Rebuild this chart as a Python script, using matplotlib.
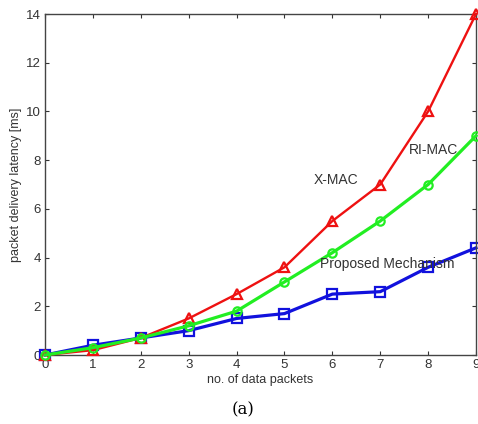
import matplotlib
matplotlib.use("Agg")
import matplotlib.pyplot as plt

packets = [0, 1, 2, 3, 4, 5, 6, 7, 8, 9]
xmac = [0, 0.2, 0.7, 1.5, 2.5, 3.6, 5.5, 7.0, 10.0, 14.0]
rimac = [0, 0.3, 0.7, 1.2, 1.8, 3.0, 4.2, 5.5, 7.0, 9.0]
proposed = [0, 0.4, 0.7, 1.0, 1.5, 1.7, 2.5, 2.6, 3.6, 4.4]

xticks = [0, 1, 2, 3, 4, 5, 6, 7, 8, 9]
yticks = [0, 2, 4, 6, 8, 10, 12, 14]

plt.rcParams['font.family'] = ['Liberation Sans', 'DejaVu Sans']

fig = plt.figure(figsize=(4.78, 4.24), dpi=100)
ax = fig.add_axes([45/478, 1 - 355/424, 431/478, 341/424])

ax.plot(packets, xmac, color='#ee1111', lw=1.7, marker='^', ms=7, mfc='none', mew=1.6, clip_on=False, zorder=3)
ax.plot(packets, rimac, color='#22ee22', lw=2.3, marker='o', ms=6, mfc='none', mew=1.6, clip_on=False, zorder=4)
ax.plot(packets, proposed, color='#1111dd', lw=2.3, marker='s', ms=6.5, mfc='none', mew=1.6, clip_on=False, zorder=2)

ax.text(6.07, 7.18, 'X-MAC', fontsize=10, color='#333333', ha='center', va='center')
ax.text(8.11, 8.42, 'RI-MAC', fontsize=10, color='#333333', ha='center', va='center')
ax.text(7.15, 3.74, 'Proposed Mechanism', fontsize=10, color='#333333', ha='center', va='center', zorder=5)

ax.set_xlim(0, 9)
ax.set_ylim(0, 14)
ax.set_xticks(xticks)
ax.set_yticks(yticks)
ax.tick_params(direction='in', top=True, right=True, labelsize=9.5, length=3, colors='#333333', pad=3)
for s in ax.spines.values():
    s.set_color('#444444')
    s.set_linewidth(1.0)

ax.set_xlabel('no. of data packets', fontsize=9, color='#333333', labelpad=2)
ax.set_ylabel('packet delivery latency [ms]', fontsize=9, color='#333333', labelpad=3)

fig.text(243/478, 1 - 410/424, '(a)', fontsize=12, family='DejaVu Serif', ha='center', va='center')

fig.savefig('out.png', dpi=100)
